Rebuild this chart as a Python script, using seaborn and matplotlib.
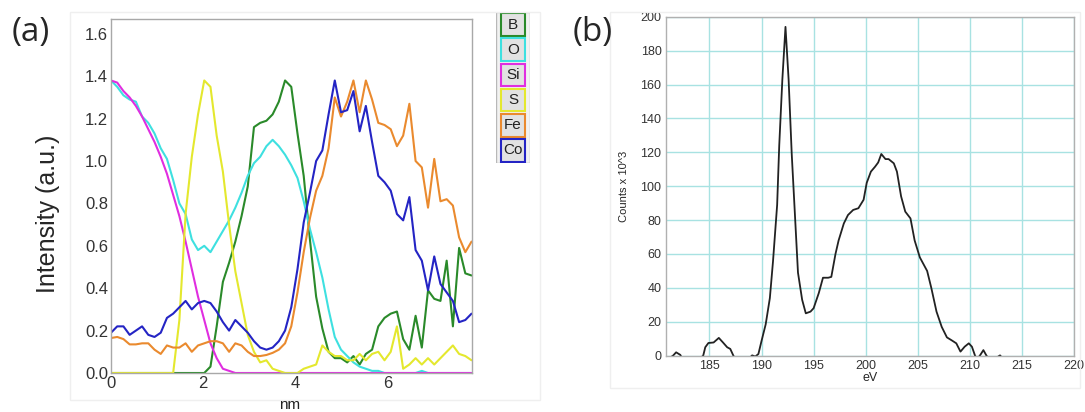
import numpy as np
import pandas as pd
import matplotlib
matplotlib.use("Agg")
import matplotlib.pyplot as plt
from matplotlib.patches import Rectangle
import seaborn as sns

sns.set_theme(style="white")
plt.rcParams['font.family'] = ['Liberation Sans', 'DejaVu Sans']

# (a) line profile, sampled every 0.135 nm
nm = np.round(np.arange(59) * 0.135, 3)
elements = ['B', 'O', 'Si', 'S', 'Fe', 'Co']
colors = ['#2a8a2a', '#3ee0e0', '#e02ee0', '#e4e82e', '#ea8a2e', '#2424c4']

b_vals = [0, 0, 0, 0, 0, 0, 0, 0, 0, 0, 0, 0, 0, 0, 0, 0, 0.03, 0.22, 0.43, 0.52,
          0.62, 0.74, 0.88, 1.16, 1.18, 1.19, 1.22, 1.28, 1.38, 1.35, 1.13, 0.93, 0.63, 0.36, 0.21,
          0.10, 0.07, 0.07, 0.05, 0.08, 0.04, 0.09, 0.11, 0.22, 0.26, 0.28, 0.29, 0.16, 0.11, 0.27,
          0.12, 0.39, 0.35, 0.34, 0.53, 0.22, 0.59, 0.47, 0.46]
o_vals = [1.38, 1.35, 1.31, 1.29, 1.28, 1.21, 1.18, 1.13, 1.06, 1.01, 0.91, 0.80, 0.75, 0.63, 0.58,
          0.60, 0.57, 0.62, 0.67, 0.72, 0.78, 0.85, 0.93, 0.99, 1.02, 1.07, 1.10, 1.07, 1.03, 0.98,
          0.92, 0.81, 0.68, 0.57, 0.45, 0.30, 0.17, 0.11, 0.08, 0.05, 0.03, 0.02, 0.01, 0.01, 0,
          0, 0, 0, 0, 0, 0.01, 0, 0, 0, 0, 0, 0, 0, 0]
si_vals = [1.38, 1.37, 1.33, 1.30, 1.26, 1.21, 1.15, 1.09, 1.02, 0.94, 0.84, 0.74, 0.62, 0.49, 0.36,
           0.25, 0.14, 0.07, 0.02, 0.01] + [0] * 39
s_vals = [0, 0, 0, 0, 0, 0, 0, 0, 0, 0, 0, 0.25, 0.75, 1.02, 1.22, 1.38, 1.35, 1.12, 0.95, 0.70,
          0.48, 0.33, 0.18, 0.10, 0.05, 0.06, 0.02, 0.01, 0, 0, 0, 0.02, 0.03, 0.04, 0.13,
          0.10, 0.08, 0.08, 0.06, 0.06, 0.09, 0.06, 0.09, 0.10, 0.06, 0.10, 0.22, 0.02, 0.04, 0.07,
          0.04, 0.07, 0.04, 0.07, 0.10, 0.13, 0.09, 0.08, 0.06]
fe_vals = [0.165, 0.17, 0.16, 0.135, 0.135, 0.14, 0.14, 0.11, 0.09, 0.13, 0.12, 0.12, 0.14, 0.10, 0.13,
           0.14, 0.15, 0.15, 0.14, 0.10, 0.14, 0.13, 0.10, 0.08, 0.08, 0.085, 0.095, 0.11, 0.14, 0.22,
           0.38, 0.57, 0.73, 0.86, 0.93, 1.06, 1.30, 1.21, 1.28, 1.38, 1.23, 1.38, 1.29, 1.18, 1.17,
           1.15, 1.07, 1.12, 1.27, 1.00, 0.97, 0.78, 1.01, 0.81, 0.82, 0.79, 0.64, 0.57, 0.62]
co_vals = [0.19, 0.22, 0.22, 0.18, 0.20, 0.22, 0.18, 0.17, 0.19, 0.26, 0.28, 0.31, 0.34, 0.30, 0.33,
           0.34, 0.33, 0.29, 0.24, 0.20, 0.25, 0.22, 0.19, 0.15, 0.12, 0.11, 0.12, 0.15, 0.20, 0.31,
           0.49, 0.71, 0.85, 1.00, 1.05, 1.22, 1.38, 1.23, 1.24, 1.33, 1.14, 1.26, 1.09, 0.93, 0.90,
           0.86, 0.75, 0.72, 0.83, 0.58, 0.53, 0.39, 0.55, 0.42, 0.38, 0.34, 0.24, 0.25, 0.28]

# (b) EELS spectrum
ev = [181.0, 181.5, 181.8, 182.2, 182.5, 183.0, 183.5, 184.0, 184.4, 184.6, 184.9, 185.4, 185.9,
      186.3, 186.7, 187.0, 187.3, 187.7, 188.3, 188.9, 189.1, 189.4, 189.7, 190.0, 190.4, 190.8,
      191.1, 191.5, 191.7, 192.0, 192.3, 192.6, 192.9, 193.2, 193.5, 193.9, 194.25, 194.7, 195.0,
      195.5, 195.9, 196.4, 196.7, 197.1, 197.4, 197.9, 198.3, 198.8, 199.3, 199.8, 200.1, 200.5,
      200.9, 201.2, 201.5, 201.9, 202.2, 202.7, 203.0, 203.4, 203.8, 204.3, 204.7, 205.2, 205.9,
      206.3, 206.8, 207.3, 207.8, 208.3, 208.7, 209.1, 209.5, 209.9, 210.2, 210.5, 210.7, 211.0,
      211.3, 211.6, 212.0, 212.6, 212.9, 213.2, 214.0]
counts = [-2, 0, 2, 0.5, -3, -6, -5, -2, 0, 5, 7.5, 7.8, 10.5,
          7.8, 5, 4, 0, -4, -5, -1, 0.2, -0.5, 1, 8.7, 18.5, 34,
          55.5, 89, 124, 163, 194, 163, 119, 84, 49, 33, 25, 26, 28,
          37, 46, 46, 46.5, 60, 68, 78, 83, 86, 87, 92, 102, 108.6,
          111.5, 114, 119, 116, 116, 113.5, 108.6, 94, 85, 81, 68, 58, 50,
          40, 26, 17, 10.8, 8.9, 7.3, 2.4, 5.3, 7.3, 5.3, 0, -2, 0.4,
          3.3, 0, -3, -1, 0.2, -2, -5]

series = dict(zip(elements, [b_vals, o_vals, si_vals, s_vals, fe_vals, co_vals]))
df = pd.concat([pd.DataFrame({'nm': nm, 'intensity': v, 'element': k}) for k, v in series.items()])
palette = dict(zip(elements, colors))

W, H = 1085, 412
fig = plt.figure(figsize=(W / 100, H / 100), dpi=100)

# faint panel frames
for x0, y0, x1, y1 in [(70, 12, 540, 400), (610, 12, 1080, 388)]:
    fig.patches.append(Rectangle((x0 / W, 1 - y1 / H), (x1 - x0) / W, (y1 - y0) / H,
                                 transform=fig.transFigure, fill=False, ec='#efefef', lw=1))

# ---- panel (a)
ax1 = fig.add_axes([111 / W, 1 - 373 / H, 361 / W, 354 / H])
sns.lineplot(data=df, x='nm', y='intensity', hue='element', palette=palette,
             hue_order=elements, lw=1.5, legend=False, ax=ax1)
ax1.set_xlim(0, 7.84)
ax1.set_ylim(0, 1.67)
ax1.set_xticks([0, 2, 4, 6])
ax1.set_yticks(np.arange(0, 1.61, 0.2))
ax1.set_yticklabels([f'{t:.1f}' for t in np.arange(0, 1.61, 0.2)])
ax1.tick_params(labelsize=12, length=0, pad=2, colors='#333333')
ax1.set_xlabel('')
fig.text(290 / W, 1 - 409 / H, 'nm', fontsize=11, ha='center', va='baseline', color='#222222')
ax1.set_ylabel('Intensity (a.u.)', fontsize=18, va='center')
ax1.yaxis.set_label_coords(-0.175, 0.45)
for s in ax1.spines.values():
    s.set_color('#a8a8a8')
    s.set_linewidth(1)

# legend boxes
axl = fig.add_axes([496 / W, 1 - 163 / H, 34 / W, 151 / H])
axl.set_xlim(0, 1)
axl.set_ylim(0, 6)
axl.axis('off')
axl.add_patch(Rectangle((0, 0), 1, 6, fc='#f2f2f2', ec='#b8b8b8', lw=1))
for i, (el, c) in enumerate(zip(elements, colors)):
    yb = 5 - i
    axl.add_patch(Rectangle((0.15, yb + 0.05), 0.7, 0.9, fc='#e2e2e2', ec=c, lw=1.5))
    axl.text(0.5, yb + 0.5, el, ha='center', va='center', fontsize=11, color='#222222')

fig.text(31 / W, 1 - 33 / H, '(a)', fontsize=24, ha='center', va='center',
         family=['Open Sans', 'DejaVu Sans'])

# ---- panel (b)
ax2 = fig.add_axes([665.7 / W, 1 - 355.7 / H, 408.3 / W, 339 / H])
sns.lineplot(x=ev, y=counts, color='#222222', lw=1.3, ax=ax2)
ax2.set_xlim(180.8, 220)
ax2.set_ylim(0, 200)
ax2.set_xticks(range(185, 221, 5))
ax2.set_yticks(range(0, 201, 20))
ax2.grid(True, color='#a8e2e2', lw=1)
ax2.set_axisbelow(True)
ax2.tick_params(labelsize=9, length=0, pad=3, colors='#333333')
ax2.set_xlabel('eV', fontsize=9, labelpad=0)
ax2.set_ylabel('Counts x 10^3', fontsize=8, labelpad=8)
for s in ax2.spines.values():
    s.set_color('#b0b0b0')
    s.set_linewidth(1)

fig.text(593 / W, 1 - 32 / H, '(b)', fontsize=24, ha='center', va='center',
         family=['Open Sans', 'DejaVu Sans'])

fig.savefig('out.png', dpi=100)
